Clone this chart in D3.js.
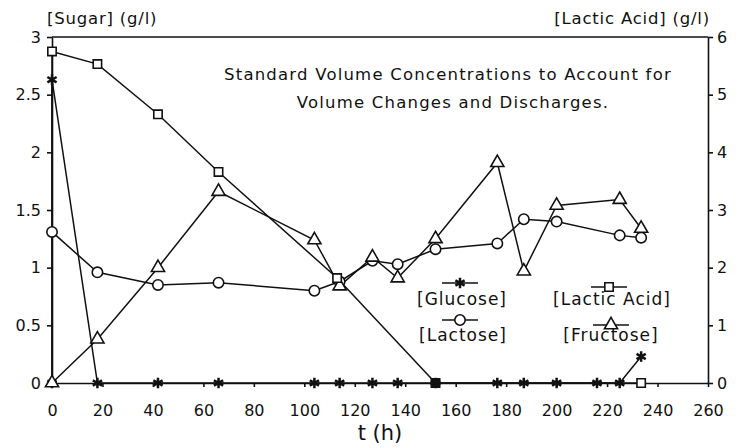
<!DOCTYPE html>
<html>
<head>
<meta charset="utf-8">
<style>
body { margin: 0; background: #fff; }
text { font-family: "DejaVu Sans", sans-serif; fill: #111; }
.axis path, .axis line { stroke: #111; stroke-width: 1.6px; }
.axis text { font-size: 16px; font-family: "DejaVu Sans", sans-serif; }
.line { fill: none; stroke: #111; stroke-width: 1.5px; }
</style>
<script src="https://cdn.jsdelivr.net/npm/d3@7"></script>
</head>
<body>
<svg width="736" height="448"></svg>
<script>
// sugars on the left axis (g/l), lactic acid on the right axis (g/l)
var glucoseT = [0, 0, 18, 42, 66, 104, 114, 127, 137, 152, 176.5, 187, 200, 216, 225, 233.5];
var glucose  = [0, 2.63, 0, 0, 0, 0, 0, 0, 0, 0, 0, 0, 0, 0, 0, 0.23];

var lactoseT = [0, 18, 42, 66, 104, 114, 127, 137, 152, 176.5, 187, 200, 225, 233.5];
var lactose  = [1.31, 0.96, 0.85, 0.87, 0.80, 0.88, 1.06, 1.03, 1.16, 1.21, 1.42, 1.40, 1.28, 1.26];

var fructoseT = [0, 18, 42, 66, 104, 114, 127, 137, 152, 176.5, 187, 200, 225, 233.5];
var fructose  = [0, 0.38, 1.0, 1.66, 1.24, 0.84, 1.09, 0.91, 1.25, 1.91, 0.97, 1.54, 1.59, 1.34];

var lacticT = [0, 18, 42, 66, 113, 152, 233.5];
var lactic  = [5.75, 5.53, 4.66, 3.66, 1.82, 0, 0];

var xTicks = d3.range(0, 261, 20);
var leftTicks = [0, 0.5, 1, 1.5, 2, 2.5, 3];
var rightTicks = [0, 1, 2, 3, 4, 5, 6];

var svg = d3.select("svg"),
    margin = {top: 37, right: 28, bottom: 65, left: 52},
    width = 736 - margin.left - margin.right,
    height = 448 - margin.top - margin.bottom,
    g = svg.append("g").attr("transform", "translate(" + margin.left + "," + margin.top + ")");

var x = d3.scaleLinear().domain([0, 260]).range([0, width]),
    yL = d3.scaleLinear().domain([0, 3]).range([height, 0]),
    yR = d3.scaleLinear().domain([0, 6]).range([height, 0]);

function pts(ts, vs) { return ts.map(function(t, i) { return {t: t, v: vs[i]}; }); }

var series = [
  {name: "[Glucose]", data: pts(glucoseT, glucose), y: yL, sym: d3.symbolAsterisk},
  {name: "[Lactose]", data: pts(lactoseT, lactose), y: yL, sym: d3.symbolCircle},
  {name: "[Fructose]", data: pts(fructoseT, fructose), y: yL, sym: d3.symbolTriangle},
  {name: "[Lactic Acid]", data: pts(lacticT, lactic), y: yR, sym: d3.symbolSquare}
];

// frame: top border line
g.append("line").attr("x1", 0).attr("x2", width).attr("y1", 0).attr("y2", 0)
  .attr("stroke", "#111").attr("stroke-width", 1.6);

g.append("g").attr("class", "axis")
  .attr("transform", "translate(0," + height + ")")
  .call(d3.axisBottom(x).tickValues(xTicks).tickSize(4).tickPadding(18).tickSizeOuter(0));

g.append("g").attr("class", "axis")
  .call(d3.axisLeft(yL).tickValues(leftTicks).tickSize(5).tickPadding(6).tickSizeOuter(0)
    .tickFormat(function(d) { return String(d); }));

g.append("g").attr("class", "axis")
  .attr("transform", "translate(" + width + ",0)")
  .call(d3.axisRight(yR).tickValues(rightTicks).tickSize(5).tickPadding(4).tickSizeOuter(0)
    .tickFormat(d3.format("d")));

// lines
series.forEach(function(s) {
  var line = d3.line().x(function(d) { return x(d.t); }).y(function(d) { return s.y(d.v); });
  var d = s.data;
  if (s.name === "[Lactic Acid]") d = [{t: 0, v: 0}].concat(d);
  g.append("path").attr("class", "line").attr("d", line(d));
});

// markers
function symSize(sym) {
  if (sym === d3.symbolCircle) return 85;
  if (sym === d3.symbolSquare) return 70;
  if (sym === d3.symbolTriangle) return 75;
  return 80;
}
function drawMarker(sel, sym, filled) {
  var isStar = sym === d3.symbolAsterisk;
  sel.attr("d", d3.symbol().type(sym).size(symSize(sym))())
    .attr("fill", isStar ? "none" : (filled ? "#111" : "#fff"))
    .attr("stroke", "#111")
    .attr("stroke-width", isStar ? 2.5 : 1.6);
}

var glucosePx = series[0].data.map(function(d) { return x(d.t) + "," + yL(d.v); });

series.forEach(function(s) {
  g.selectAll(null).data(s.data).enter().append("path")
    .attr("transform", function(d) { return "translate(" + x(d.t) + "," + s.y(d.v) + ")"; })
    .each(function(d) {
      var filled = s.sym === d3.symbolSquare && glucosePx.indexOf(x(d.t) + "," + s.y(d.v)) >= 0;
      drawMarker(d3.select(this), s.sym, filled);
    });
});

// legend (svg coordinates)
var legend = [
  {s: series[0], lx: 460, ly: 283, tx: 462, ty: 305},
  {s: series[3], lx: 609, ly: 287, tx: 612, ty: 305},
  {s: series[1], lx: 460, ly: 320, tx: 463, ty: 341},
  {s: series[2], lx: 611, ly: 325, tx: 611, ty: 341}
];
legend.forEach(function(l) {
  var lg = svg.append("g");
  lg.append("line").attr("x1", l.lx - 18).attr("x2", l.lx + 18)
    .attr("y1", l.ly).attr("y2", l.ly).attr("stroke", "#111").attr("stroke-width", 1.5);
  drawMarker(lg.append("path").attr("transform", "translate(" + l.lx + "," + l.ly + ")"), l.s.sym, false);
  lg.append("text").attr("x", l.tx).attr("y", l.ty).attr("text-anchor", "middle")
    .style("font-size", "17px").style("letter-spacing", "1px").text(l.s.name);
});

// annotation
svg.append("text").attr("x", 448).attr("y", 80).attr("text-anchor", "middle")
  .style("font-size", "16.5px").style("letter-spacing", "1.2px")
  .text("Standard Volume Concentrations to Account for");
svg.append("text").attr("x", 453).attr("y", 108).attr("text-anchor", "middle")
  .style("font-size", "16.5px").style("letter-spacing", "1.2px")
  .text("Volume Changes and Discharges.");

// axis titles
svg.append("text").attr("x", 47).attr("y", 24).style("font-size", "16.5px")
  .style("letter-spacing", "0.8px").text("[Sugar] (g/l)");
svg.append("text").attr("x", 710).attr("y", 24).attr("text-anchor", "end")
  .style("font-size", "16.5px").style("letter-spacing", "0.8px").text("[Lactic Acid] (g/l)");
svg.append("text").attr("x", 380).attr("y", 440).attr("text-anchor", "middle")
  .style("font-size", "21px").text("t (h)");
</script>
</body>
</html>
